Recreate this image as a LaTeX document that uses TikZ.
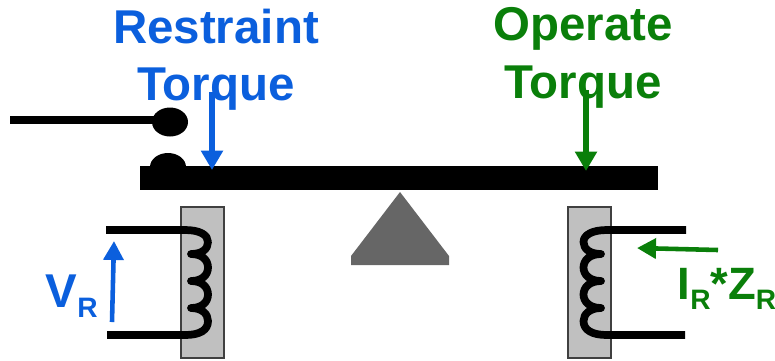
\documentclass[tikz,border=0pt]{standalone}
\usepackage{fontspec}
\setmainfont{Liberation Sans}
\usetikzlibrary{arrows.meta}
\definecolor{restblue}{RGB}{11,95,221}
\definecolor{opgreen}{RGB}{10,127,10}
\definecolor{coregray}{RGB}{192,192,192}
\definecolor{pivotgray}{RGB}{102,102,102}
\newcommand{\subR}{\raisebox{-2.95pt}{\fontsize{8}{8}\selectfont R}}
\tikzset{%
	label/.style={inner sep=0pt,anchor=base,font=\fontsize{13.5}{16}\selectfont\bfseries},
	sublabel/.style={label,anchor=base west,font=\fontsize{12.9}{16}\selectfont\bfseries},
	core/.style={draw=black!75,line width=0.3pt,fill=coregray},
	wire/.style={black,line width=2.2pt,line join=round},
	torque/.style={line width=1.5pt,-{Triangle[length=5.5pt,width=6pt]}},
	sense/.style={line width=1.3pt,-{Triangle[length=5.4pt,width=5.6pt]}},
}
\begin{document}
\begin{tikzpicture}
	\useasboundingbox (0,0) rectangle (7.75,3.6);
	% core blocks
	\draw[core] (1.81,0.02) rectangle (2.24,1.53);
	\draw[core] (5.68,0.02) rectangle (6.11,1.53);
	% lever, contacts, pivot
	\fill[black] (1.68,1.93) ellipse (0.18 and 0.14);
	\fill[black] (1.40,1.70) rectangle (6.58,1.94);
	\fill[black] (1.70,2.38) ellipse (0.18 and 0.145);
	\draw[black,line width=2.2pt] (0.10,2.40) -- (1.60,2.40);
	\fill[pivotgray] (4.00,1.68) -- (4.49,1.04) -- (4.49,0.95) -- (3.51,0.95) -- (3.51,1.04) -- cycle;
	% coils
	\draw[wire] (1.06,1.30) -- (1.85,1.30) .. controls (2.00,1.30) and (2.08,1.25) .. (2.08,1.18)
		.. controls (2.08,1.11) and (2.02,1.06) .. (1.91,1.06)
		.. controls (2.02,1.06) and (2.08,1.00) .. (2.08,0.925) .. controls (2.08,0.85) and (2.02,0.79) .. (1.91,0.79)
		.. controls (2.02,0.79) and (2.08,0.73) .. (2.08,0.655) .. controls (2.08,0.58) and (2.02,0.52) .. (1.91,0.52)
		.. controls (2.02,0.52) and (2.08,0.46) .. (2.08,0.39) .. controls (2.08,0.30) and (2.00,0.25) .. (1.85,0.25) -- (1.07,0.25);
	\draw[wire] (6.86,1.30) -- (6.07,1.30) .. controls (5.92,1.30) and (5.835,1.25) .. (5.835,1.18)
		.. controls (5.835,1.11) and (5.90,1.06) .. (6.01,1.06)
		.. controls (5.90,1.06) and (5.835,1.00) .. (5.835,0.925) .. controls (5.835,0.85) and (5.90,0.79) .. (6.01,0.79)
		.. controls (5.90,0.79) and (5.835,0.73) .. (5.835,0.655) .. controls (5.835,0.58) and (5.90,0.52) .. (6.01,0.52)
		.. controls (5.90,0.52) and (5.835,0.46) .. (5.835,0.39) .. controls (5.835,0.30) and (5.92,0.25) .. (6.07,0.25) -- (6.85,0.25);
	% labels
	\node[label,text=restblue] (restraint) at (2.16,3.17) {Restraint};
	\node[label,text=restblue] (rtorque) at (2.16,2.60) {Torque};
	\node[label,text=opgreen] (operate) at (5.83,3.20) {Operate};
	\node[label,text=opgreen] (otorque) at (5.83,2.62) {Torque};
	\node[label,anchor=base west,text=restblue] (vr) at (0.45,0.53) {V\subR};
	\node[sublabel,text=opgreen] (irzr) at (6.77,0.61) {I\subR*Z\subR};
	% arrows
	\draw[torque,restblue] (2.12,2.68) -- (2.12,1.90);
	\draw[torque,opgreen] (5.86,2.70) -- (5.86,1.89);
	\draw[sense,restblue] (1.12,0.38) -- (1.14,1.19);
	\draw[sense,opgreen] (7.18,1.10) -- (6.37,1.12);
\end{tikzpicture}
\end{document}
